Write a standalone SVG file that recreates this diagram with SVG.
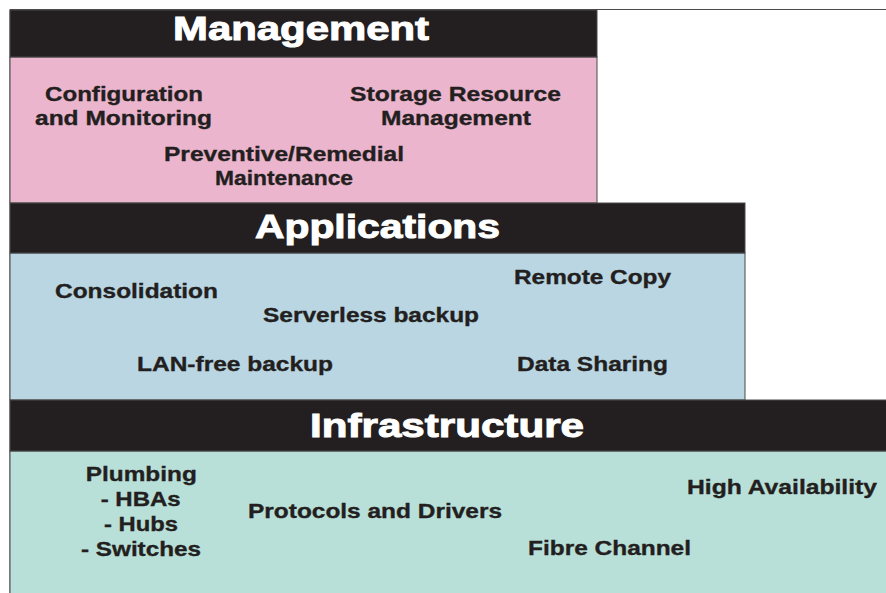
<svg xmlns="http://www.w3.org/2000/svg" width="886" height="593" viewBox="0 0 886 593">
<style>
.hd{fill:#231f20;stroke:#4a4a4a;stroke-width:1}
.bd{stroke:#4a4a4a;stroke-width:1}
.ht{font-family:"Liberation Sans",Arial,sans-serif;font-weight:bold;font-size:34px;fill:#fff;stroke:#fff;stroke-width:1;text-anchor:middle}
.bt{font-family:"Liberation Sans",Arial,sans-serif;font-weight:bold;font-size:20.5px;fill:#231f20;stroke:#231f20;stroke-width:0.35;text-anchor:middle}
</style>
<rect width="886" height="593" fill="#fff"/>
<g id="frame">
<line x1="10" y1="9.5" x2="886" y2="9.5" stroke="#4a4a4a" stroke-width="1"/>
<line x1="10" y1="9.5" x2="10" y2="593" stroke="#4a4a4a" stroke-width="1"/>
</g>
<g id="management">
<rect class="bd" x="10" y="57" width="587" height="146" fill="#ebb5cd"/>
<rect class="hd" x="10" y="10" width="587" height="47"/>
<text class="ht" x="301" y="40" textLength="256" lengthAdjust="spacingAndGlyphs">Management</text>
<text class="bt" x="124" y="101" textLength="158" lengthAdjust="spacingAndGlyphs">Configuration</text>
<text class="bt" x="123.5" y="124.5" textLength="177" lengthAdjust="spacingAndGlyphs">and Monitoring</text>
<text class="bt" x="455.5" y="101" textLength="211" lengthAdjust="spacingAndGlyphs">Storage Resource</text>
<text class="bt" x="456" y="124.5" textLength="150" lengthAdjust="spacingAndGlyphs">Management</text>
<text class="bt" x="284" y="161" textLength="240" lengthAdjust="spacingAndGlyphs">Preventive/Remedial</text>
<text class="bt" x="284" y="184.5" textLength="138" lengthAdjust="spacingAndGlyphs">Maintenance</text>
</g>
<g id="applications">
<rect class="bd" x="10" y="253" width="735" height="147" fill="#b9d6e2"/>
<rect class="hd" x="10" y="203" width="735" height="50"/>
<text class="ht" x="377.5" y="238" textLength="245" lengthAdjust="spacingAndGlyphs">Applications</text>
<text class="bt" x="136.5" y="298" textLength="163" lengthAdjust="spacingAndGlyphs">Consolidation</text>
<text class="bt" x="592.5" y="284" textLength="157" lengthAdjust="spacingAndGlyphs">Remote Copy</text>
<text class="bt" x="371" y="322" textLength="216" lengthAdjust="spacingAndGlyphs">Serverless backup</text>
<text class="bt" x="235" y="371" textLength="196" lengthAdjust="spacingAndGlyphs">LAN-free backup</text>
<text class="bt" x="592.5" y="371" textLength="151" lengthAdjust="spacingAndGlyphs">Data Sharing</text>
</g>
<g id="infrastructure">
<rect class="bd" x="10" y="451" width="877" height="143" fill="#b9e0d8"/>
<rect class="hd" x="10" y="400" width="877" height="51"/>
<text class="ht" x="447" y="436.5" textLength="274" lengthAdjust="spacingAndGlyphs">Infrastructure</text>
<text class="bt" x="141.3" y="481" textLength="111" lengthAdjust="spacingAndGlyphs">Plumbing</text>
<text class="bt" x="140.7" y="506" textLength="80" lengthAdjust="spacingAndGlyphs">- HBAs</text>
<text class="bt" x="141" y="531" textLength="74" lengthAdjust="spacingAndGlyphs">- Hubs</text>
<text class="bt" x="141" y="555.5" textLength="120" lengthAdjust="spacingAndGlyphs">- Switches</text>
<text class="bt" x="375" y="518" textLength="254" lengthAdjust="spacingAndGlyphs">Protocols and Drivers</text>
<text class="bt" x="782" y="494" textLength="190" lengthAdjust="spacingAndGlyphs">High Availability</text>
<text class="bt" x="609.5" y="555" textLength="163" lengthAdjust="spacingAndGlyphs">Fibre Channel</text>
</g>
</svg>
